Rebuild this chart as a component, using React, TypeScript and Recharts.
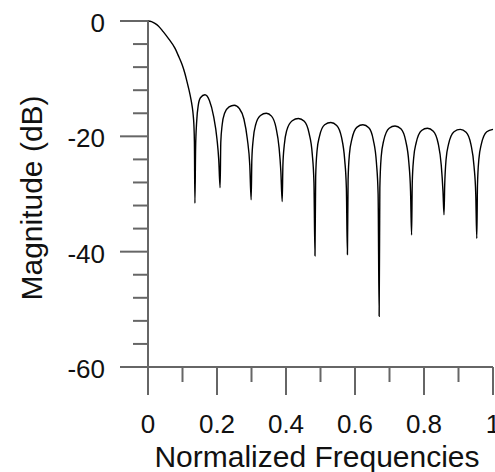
import { LineChart, Line, XAxis, YAxis, Label } from "recharts";

// normalized frequency (one row per lobe)
const freqs = [
  0, 0.01, 0.02, 0.03, 0.044, 0.06, 0.078, 0.09, 0.099, 0.107, 0.113, 0.119, 0.124, 0.128, 0.131, 0.133, 0.1345, 0.136,
  0.138, 0.141, 0.146, 0.152, 0.165, 0.178, 0.19, 0.2, 0.205, 0.209,
  0.211, 0.215, 0.222, 0.235, 0.25, 0.265, 0.278, 0.288, 0.295, 0.299,
  0.301, 0.305, 0.312, 0.326, 0.343, 0.358, 0.371, 0.38, 0.385, 0.389,
  0.391, 0.395, 0.402, 0.418, 0.436, 0.453, 0.467, 0.476, 0.481, 0.484,
  0.486, 0.49, 0.497, 0.512, 0.53, 0.547, 0.561, 0.57, 0.575, 0.578,
  0.58, 0.584, 0.591, 0.606, 0.623, 0.64, 0.653, 0.662, 0.667, 0.67,
  0.672, 0.676, 0.683, 0.699, 0.716, 0.733, 0.747, 0.756, 0.761, 0.764,
  0.766, 0.77, 0.777, 0.793, 0.81, 0.827, 0.841, 0.85, 0.855, 0.858,
  0.86, 0.864, 0.871, 0.887, 0.905, 0.922, 0.936, 0.945, 0.95, 0.953,
  0.955, 0.959, 0.966, 0.982, 1.0,
];

// magnitude in dB, same order as freqs
const magnitudes = [
  0, -0.1, -0.4, -0.85, -1.85, -3.1, -4.7, -6.3, -7.6, -9.1, -10.5, -12, -13.4, -14.8, -16.3, -18, -21, -31.6,
  -22, -17.5, -14.5, -13.3, -12.8, -13.8, -16.5, -20.5, -24, -28.9,
  -21, -18, -16, -14.9, -14.6, -15.2, -17, -20.5, -25, -31,
  -24, -20.5, -18, -16.4, -16.0, -16.5, -18.5, -22, -26, -31.3,
  -25, -21.5, -19, -17.3, -16.9, -17.4, -19.5, -23, -28, -40.7,
  -27, -22.5, -20, -18, -17.6, -18.1, -20.2, -24, -29, -40.5,
  -27.5, -23, -20.5, -18.4, -18.0, -18.5, -20.6, -24.5, -30, -51.2,
  -29, -23.5, -20.8, -18.6, -18.2, -18.7, -20.8, -24.5, -29.5, -37.1,
  -28, -23.8, -21.2, -19, -18.6, -19.1, -21.2, -25, -29.5, -33.6,
  -28.5, -24, -21.4, -19.2, -18.8, -19.3, -21.4, -25.2, -30, -37.7,
  -28.5, -24, -21.4, -19.2, -18.8,
];

const xTicks = [0, 0.1, 0.2, 0.3, 0.4, 0.5, 0.6, 0.7, 0.8, 0.9, 1];
const xMajor = [0, 0.2, 0.4, 0.6, 0.8, 1];
const yTicks = [0, -4, -8, -12, -16, -20, -24, -28, -32, -36, -40, -44, -48, -52, -56, -60];
const yMajor = [0, -20, -40, -60];

const data = freqs.map((f, i) => ({ f, db: magnitudes[i] }));

const AXIS = "#666";
const FONT = "'Liberation Sans', Arial, sans-serif";

function XTick({ x, y, payload }: any) {
  const major = xMajor.some((m) => Math.abs(m - payload.value) < 1e-6);
  return (
    <g>
      <line x1={x} x2={x} y1={y} y2={y + (major ? 28 : 15)} stroke={AXIS} strokeWidth={2} />
      {major && (
        <text x={x} y={y + 66} textAnchor="middle" fontSize={26} fill="#111" fontFamily={FONT}>
          {String(payload.value)}
        </text>
      )}
    </g>
  );
}

function YTick({ x, y, payload }: any) {
  const major = yMajor.includes(payload.value);
  return (
    <g>
      <line x1={x} x2={x - (major ? 28 : 15)} y1={y} y2={y} stroke={AXIS} strokeWidth={2} />
      {major && (
        <text x={x - 43} y={y + 11} textAnchor="end" fontSize={26} fill="#111" fontFamily={FONT}>
          {String(payload.value)}
        </text>
      )}
    </g>
  );
}

export default function App() {
  return (
    <div style={{ position: "absolute", left: 0, top: 0, background: "#fff" }}>
      <LineChart width={495} height={472} data={data} margin={{ top: 21, right: 2, left: 0, bottom: 0 }}>
        <XAxis
          dataKey="f"
          type="number"
          domain={[0, 1]}
          ticks={xTicks}
          interval={0}
          tickSize={0}
          tickMargin={0}
          tickLine={false}
          tick={<XTick />}
          height={105}
          stroke={AXIS}
          strokeWidth={2}
        >
          <Label
            content={() => (
              <text x={317} y={467} textAnchor="middle" fontSize={30} fill="#111" fontFamily={FONT}>
                Normalized Frequencies
              </text>
            )}
          />
        </XAxis>
        <YAxis
          type="number"
          domain={[-60, 0]}
          ticks={yTicks}
          interval={0}
          tickSize={0}
          tickMargin={0}
          tickLine={false}
          tick={<YTick />}
          width={148}
          stroke={AXIS}
          strokeWidth={2}
        >
          <Label
            content={() => (
              <text
                x={42}
                y={198}
                transform="rotate(-90 42 198)"
                textAnchor="middle"
                fontSize={30}
                fill="#111"
                fontFamily={FONT}
              >
                Magnitude (dB)
              </text>
            )}
          />
        </YAxis>
        <Line
          dataKey="db"
          type="monotone"
          stroke="#000"
          strokeWidth={1.4}
          dot={false}
          isAnimationActive={false}
        />
      </LineChart>
    </div>
  );
}
